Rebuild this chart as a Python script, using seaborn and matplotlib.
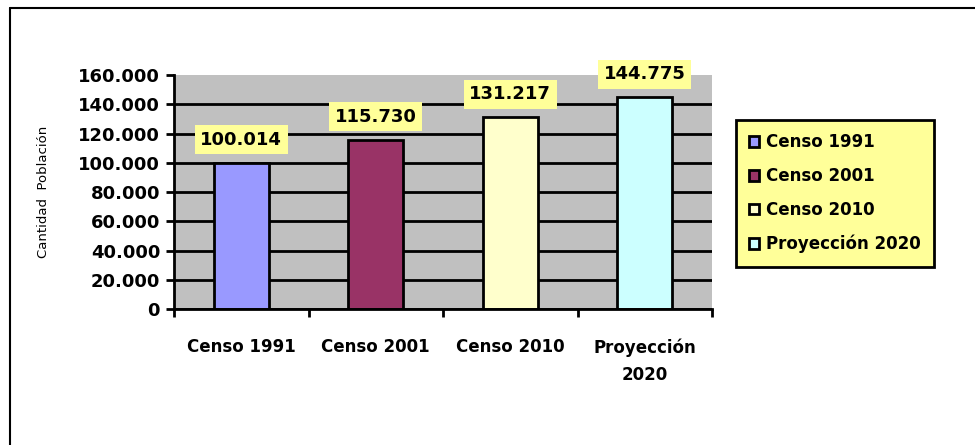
import matplotlib
matplotlib.use("Agg")
import matplotlib.pyplot as plt
from matplotlib.lines import Line2D
from matplotlib.patches import Patch
from matplotlib.ticker import FuncFormatter, FixedLocator
import seaborn as sns

# datos
categorias = ["Censo 1991", "Censo 2001", "Censo 2010", "Proyección 2020"]
etiquetas_x = ["Censo 1991", "Censo 2001", "Censo 2010", "Proyección\n2020"]
poblacion = [100014, 115730, 131217, 144775]
colores = ["#9999FF", "#993366", "#FFFFCC", "#CCFFFF"]


def miles(v, pos=None):
    return f"{int(round(v)):,}".replace(",", ".")


sns.set_style("white")
plt.rcParams["font.family"] = ["DejaVu Sans"]
plt.rcParams["text.color"] = "black"
plt.rcParams["axes.labelcolor"] = "black"
plt.rcParams["xtick.color"] = "black"
plt.rcParams["ytick.color"] = "black"

fig = plt.figure(figsize=(9.75, 4.45), dpi=100)
ax = fig.add_axes([174 / 975, 1 - 309 / 445, 538 / 975, 234 / 445])
ax.set_facecolor("#C0C0C0")

sns.barplot(x=categorias, y=poblacion, hue=categorias, palette=colores,
            width=0.41, edgecolor="black", linewidth=2, legend=False,
            saturation=1, ax=ax, zorder=3)

ax.set_ylim(0, 160000)
ax.set_xlim(-0.5, 3.5)
ax.set_yticks(range(0, 160001, 20000))
ax.yaxis.set_major_formatter(FuncFormatter(miles))
ax.set_axisbelow(True)
ax.yaxis.grid(True, color="black", linewidth=2)
ax.get_ygridlines()[-1].set_visible(False)

# etiquetas de datos
for i, v in enumerate(poblacion):
    ax.annotate(miles(v), (i, v), xytext=(0, 10), textcoords="offset points",
                ha="center", va="bottom", fontsize=13, fontweight="bold",
                color="black",
                bbox=dict(boxstyle="square,pad=0.3", fc="#FFFF99", ec="none"),
                zorder=5)

# ejes
for s in ["top", "right"]:
    ax.spines[s].set_visible(False)
for s in ["left", "bottom"]:
    ax.spines[s].set_color("black")
    ax.spines[s].set_linewidth(2)
    ax.spines[s].set_zorder(4)

ax.set_xticks(range(4))
ax.set_xticklabels(etiquetas_x, fontsize=12, fontweight="bold", linespacing=1.7)
ax.xaxis.set_minor_locator(FixedLocator([-0.5, 0.5, 1.5, 2.5, 3.5]))
ax.tick_params(axis="x", which="major", length=0, pad=21)
ax.tick_params(axis="x", which="minor", direction="out", length=6, width=2,
               color="black", bottom=True)
ax.tick_params(axis="y", direction="out", length=6, width=2, color="black",
               left=True, labelsize=13, pad=4)
for t in ax.get_yticklabels():
    t.set_fontweight("bold")

ax.set_xlabel("")
ax.set_ylabel("Cantidad  Población", fontsize=9.5, labelpad=20)

# leyenda
handles = [Patch(facecolor=c, edgecolor="black", linewidth=2) for c in colores]
leg = fig.legend(handles, categorias, loc="upper left",
                 bbox_to_anchor=(736 / 975, 1 - 120 / 445),
                 prop={"size": 12, "weight": "bold"}, frameon=True,
                 fancybox=False, handlelength=0.6, handleheight=0.6,
                 handletextpad=0.4, labelspacing=0.95, borderpad=0.8,
                 borderaxespad=0)
leg.get_frame().set_facecolor("#FFFF99")
leg.get_frame().set_edgecolor("black")
leg.get_frame().set_linewidth(2)
leg.get_frame().set_alpha(1)

# marco exterior
fig.add_artist(Line2D([10 / 975, 1.0], [1 - 8 / 445, 1 - 8 / 445],
                      transform=fig.transFigure, color="black", linewidth=1.5))
fig.add_artist(Line2D([10 / 975, 10 / 975], [0, 1 - 8 / 445],
                      transform=fig.transFigure, color="black", linewidth=1.5))

fig.savefig("out.png", dpi=100)
